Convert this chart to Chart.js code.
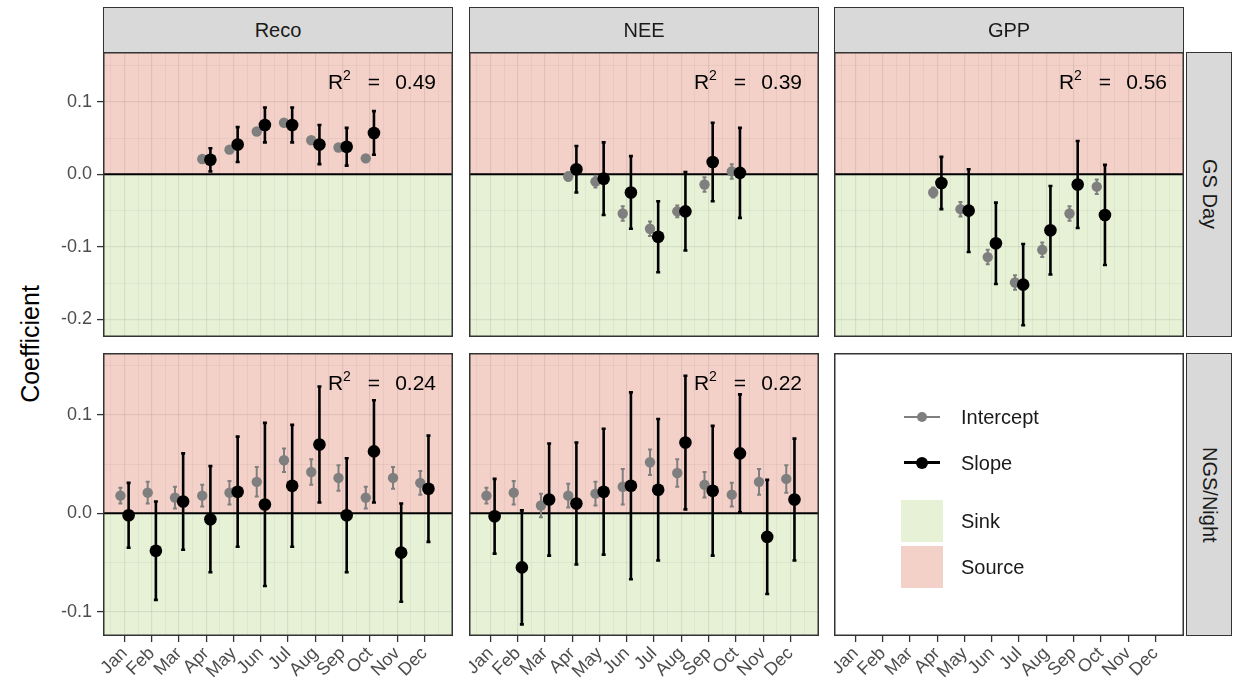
<!DOCTYPE html>
<html>
<head>
<meta charset="utf-8">
<script src="https://cdn.jsdelivr.net/npm/chart.js@4.4.1/dist/chart.umd.min.js"></script>
<style>
  body { margin: 0; background: #fff; font-family: "Liberation Sans", Arial, sans-serif; }
  #wrap { position: relative; width: 1236px; height: 698px; overflow: hidden; }
  canvas { position: absolute; }
  .strip { position: absolute; box-sizing: border-box; background: #d9d9d9; border: 1.5px solid #333;
           color: #1a1a1a; font-size: 20px; display: flex; align-items: center; justify-content: center; }
  .strip.side span { writing-mode: vertical-rl; }
  #ylab { position: absolute; left: 30px; top: 344px; transform: translate(-50%, -50%) rotate(-90deg);
          font-size: 25px; color: #000; white-space: nowrap; }
  .lg { position: absolute; }
  .lgtext { position: absolute; font-size: 20px; color: #1a1a1a; transform: translateY(-50%); white-space: nowrap; }
</style>
</head>
<body>
<div id="wrap">
  <div id="ylab">Coefficient</div>
</div>
<script>
// ---- data ----
const months = ['Jan', 'Feb', 'Mar', 'Apr', 'May', 'Jun', 'Jul', 'Aug', 'Sep', 'Oct', 'Nov', 'Dec'];
const fluxes = ['Reco', 'NEE', 'GPP'];
const periods = ['GS Day', 'NGS/Night'];

// GS Day (Apr-Oct only)
const recoDayInt   = [null, null, null, 0.021, 0.034, 0.059, 0.071, 0.047, 0.037, 0.022, null, null];
const recoDayIntSe = [null, null, null, 0.004, 0.004, 0.004, 0.004, 0.004, 0.004, 0.004, null, null];
const recoDaySlp   = [null, null, null, 0.020, 0.041, 0.068, 0.068, 0.041, 0.038, 0.057, null, null];
const recoDaySlpSe = [null, null, null, 0.016, 0.024, 0.024, 0.024, 0.027, 0.026, 0.030, null, null];

const neeDayInt   = [null, null, null, -0.003, -0.010, -0.054, -0.075, -0.051, -0.014, 0.004, null, null];
const neeDayIntSe = [null, null, null, 0.006, 0.008, 0.010, 0.010, 0.008, 0.010, 0.010, null, null];
const neeDaySlp   = [null, null, null, 0.007, -0.006, -0.025, -0.086, -0.051, 0.017, 0.002, null, null];
const neeDaySlpSe = [null, null, null, 0.032, 0.050, 0.050, 0.049, 0.054, 0.054, 0.062, null, null];

const gppDayInt   = [null, null, null, -0.025, -0.048, -0.114, -0.149, -0.104, -0.054, -0.017, null, null];
const gppDayIntSe = [null, null, null, 0.007, 0.010, 0.010, 0.010, 0.010, 0.010, 0.010, null, null];
const gppDaySlp   = [null, null, null, -0.012, -0.050, -0.095, -0.152, -0.077, -0.014, -0.056, null, null];
const gppDaySlpSe = [null, null, null, 0.036, 0.057, 0.056, 0.056, 0.061, 0.060, 0.069, null, null];

// NGS/Night (all months)
const recoNightInt   = [0.018, 0.021, 0.016, 0.018, 0.021, 0.032, 0.054, 0.042, 0.036, 0.016, 0.036, 0.031];
const recoNightIntSe = [0.008, 0.011, 0.011, 0.011, 0.012, 0.015, 0.012, 0.013, 0.013, 0.011, 0.011, 0.012];
const recoNightSlp   = [-0.002, -0.038, 0.012, -0.006, 0.022, 0.009, 0.028, 0.070, -0.002, 0.063, -0.040, 0.025];
const recoNightSlpSe = [0.033, 0.050, 0.049, 0.054, 0.056, 0.083, 0.062, 0.059, 0.058, 0.052, 0.050, 0.054];

const neeNightInt   = [0.018, 0.021, 0.008, 0.018, 0.020, 0.027, 0.052, 0.041, 0.029, 0.019, 0.032, 0.035];
const neeNightIntSe = [0.008, 0.012, 0.012, 0.012, 0.012, 0.018, 0.013, 0.014, 0.013, 0.012, 0.013, 0.014];
const neeNightSlp   = [-0.003, -0.055, 0.014, 0.010, 0.022, 0.028, 0.024, 0.072, 0.023, 0.061, -0.024, 0.014];
const neeNightSlpSe = [0.038, 0.058, 0.057, 0.062, 0.064, 0.095, 0.072, 0.068, 0.066, 0.060, 0.058, 0.062];

const r2Labels = { 'Reco|GS Day': '0.49', 'NEE|GS Day': '0.39', 'GPP|GS Day': '0.56',
                   'Reco|NGS/Night': '0.24', 'NEE|NGS/Night': '0.22' };

const dayTicks = [-0.2, -0.15, -0.1, -0.05, 0, 0.05, 0.1, 0.15];
const nightTicks = [-0.1, -0.05, 0, 0.05, 0.1, 0.15];

// ---- look ----
const sourceFill = '#f3d1c8';
const sinkFill = '#e6f1d6';
const interceptCol = '#7f7f7f';
const slopeCol = '#000000';
const dodge = 0.15;

const colLeft = [103, 469, 834];
const panelW = 350;
const rowTop = [52, 353];
const panelH = [285, 283];
const yAxisW = 103;
const xAxisH = 62;
const yRange = [[-0.2241, 0.1685], [-0.1248, 0.1631]];
const xRange = [0.21, 13.05];

Chart.defaults.font.family = '"Liberation Sans", Arial, sans-serif';

const isMajor = v => Math.abs(v * 10 - Math.round(v * 10)) < 1e-6;
const xTickVals = months.flatMap((m, i) => [i + 0.5, i + 1]).concat([12.5]);

const panelPlugin = {
  id: 'panel',
  beforeDraw(chart, args, o) {
    const { ctx, chartArea: a } = chart;
    ctx.save();
    if (o.zones) {
      const z = chart.scales.y.getPixelForValue(0);
      ctx.fillStyle = sourceFill;
      ctx.fillRect(a.left, a.top, a.width, z - a.top);
      ctx.fillStyle = sinkFill;
      ctx.fillRect(a.left, z, a.width, a.bottom - z);
    }
    ctx.restore();
  },
  beforeDatasetsDraw(chart, args, o) {
    if (!o.zones) return;
    const { ctx, chartArea: a } = chart;
    const z = chart.scales.y.getPixelForValue(0);
    ctx.save();
    ctx.strokeStyle = '#000';
    ctx.lineWidth = 2;
    ctx.beginPath();
    ctx.moveTo(a.left, z);
    ctx.lineTo(a.right, z);
    ctx.stroke();
    ctx.restore();
  },
  afterDraw(chart, args, o) {
    const { ctx, chartArea: a } = chart;
    ctx.save();
    ctx.strokeStyle = '#333';
    ctx.lineWidth = 1.5;
    ctx.strokeRect(a.left + 0.75, a.top + 0.75, a.width - 1.5, a.height - 1.5);
    if (o.r2) {
      ctx.fillStyle = '#000';
      ctx.textBaseline = 'alphabetic';
      const base = a.top + 37;
      ctx.font = '21px "Liberation Sans", Arial, sans-serif';
      const wVal = ctx.measureText(o.r2).width;
      const wEq = ctx.measureText('=').width;
      const wR = ctx.measureText('R').width;
      let x = a.right - 17 - wVal;
      ctx.fillText(o.r2, x, base);
      x -= 15 + wEq;
      ctx.fillText('=', x, base);
      ctx.font = '14px "Liberation Sans", Arial, sans-serif';
      const w2 = ctx.measureText('2').width;
      x -= 17 + w2;
      ctx.fillText('2', x, base - 9);
      ctx.font = '21px "Liberation Sans", Arial, sans-serif';
      x -= wR;
      ctx.fillText('R', x, base);
    }
    ctx.restore();
  }
};

const errorBars = {
  id: 'errorBars',
  beforeDatasetDraw(chart, args) {
    const ds = chart.data.datasets[args.index];
    if (!ds.err) return;
    const ctx = chart.ctx, ys = chart.scales.y;
    ctx.save();
    ctx.strokeStyle = ds.errColor;
    ctx.lineWidth = ds.errWidth;
    args.meta.data.forEach((pt, i) => {
      const v = ds.data[i].y;
      if (v == null) return;
      const top = ys.getPixelForValue(v + ds.err[i]);
      const bot = ys.getPixelForValue(v - ds.err[i]);
      ctx.beginPath();
      ctx.moveTo(pt.x, top); ctx.lineTo(pt.x, bot);
      ctx.moveTo(pt.x - 2, top); ctx.lineTo(pt.x + 2, top);
      ctx.moveTo(pt.x - 2, bot); ctx.lineTo(pt.x + 2, bot);
      ctx.stroke();
    });
    ctx.restore();
  }
};

function toPoints(vals, off) {
  return months.map((m, i) => ({ x: i + 1 + off, y: vals[i] }));
}

function makePanel(row, col, series, r2) {
  const showY = col === 0;
  const showX = row === 1;
  const canvas = document.createElement('canvas');
  const left = showY ? colLeft[col] - yAxisW : colLeft[col];
  const w = panelW + (showY ? yAxisW : 0);
  const h = panelH[row] + (showX ? xAxisH : 0);
  canvas.width = w; canvas.height = h;
  canvas.style.left = left + 'px';
  canvas.style.top = rowTop[row] + 'px';
  document.getElementById('wrap').appendChild(canvas);

  const yTicks = row === 0 ? dayTicks : nightTicks;
  const datasets = series ? [
    { label: 'Slope', data: toPoints(series.slp, dodge), err: series.slpSe, errColor: slopeCol, errWidth: 2.6,
      pointRadius: 6.3, backgroundColor: slopeCol, borderWidth: 0, order: 0, clip: false },
    { label: 'Intercept', data: toPoints(series.int, -dodge), err: series.intSe, errColor: interceptCol, errWidth: 2,
      pointRadius: 5.2, backgroundColor: interceptCol, borderWidth: 0, order: 1, clip: false }
  ] : [];

  new Chart(canvas, {
    type: 'scatter',
    data: { datasets },
    plugins: [panelPlugin, errorBars],
    options: {
      responsive: false,
      animation: false,
      events: [],
      layout: { padding: 0, autoPadding: false },
      plugins: {
        legend: { display: false },
        tooltip: { enabled: false },
        panel: { zones: !!series, r2: r2 }
      },
      scales: {
        x: {
          type: 'linear', min: xRange[0], max: xRange[1],
          afterBuildTicks: s => { s.ticks = xTickVals.map(v => ({ value: v })); },
          afterFit: s => { s.height = showX ? xAxisH : 0; s.paddingLeft = 0; s.paddingRight = 0; },
          border: { display: false },
          grid: {
            display: true,
            drawOnChartArea: !!series,
            drawTicks: showX,
            tickLength: 6,
            color: c => Number.isInteger(c.tick.value) ? 'rgba(0,0,0,0.075)' : 'rgba(0,0,0,0.05)',
            lineWidth: c => Number.isInteger(c.tick.value) ? 1.2 : 0.8,
            tickColor: c => Number.isInteger(c.tick.value) ? '#333' : 'rgba(0,0,0,0)',
            tickWidth: 1.3
          },
          ticks: {
            display: showX,
            autoSkip: false,
            minRotation: 45, maxRotation: 45,
            padding: 1,
            color: '#4d4d4d',
            font: { size: 18 },
            callback: v => Number.isInteger(v) ? months[v - 1] : ''
          }
        },
        y: {
          type: 'linear', min: yRange[row][0], max: yRange[row][1],
          afterBuildTicks: s => { s.ticks = yTicks.map(v => ({ value: v })); },
          afterFit: s => { s.width = showY ? yAxisW : 0; s.paddingTop = 0; s.paddingBottom = 0; },
          border: { display: false },
          grid: {
            display: true,
            drawOnChartArea: !!series,
            drawTicks: showY,
            tickLength: 6,
            color: c => isMajor(c.tick.value) ? 'rgba(0,0,0,0.075)' : 'rgba(0,0,0,0.05)',
            lineWidth: c => isMajor(c.tick.value) ? 1.2 : 0.8,
            tickColor: c => isMajor(c.tick.value) ? '#333' : 'rgba(0,0,0,0)',
            tickWidth: 1.3
          },
          ticks: {
            display: showY,
            padding: 5,
            color: '#4d4d4d',
            font: { size: 18 },
            callback: v => isMajor(v) ? v.toFixed(1) : ''
          }
        }
      }
    }
  });
}

const panels = {
  'Reco|GS Day': { int: recoDayInt, intSe: recoDayIntSe, slp: recoDaySlp, slpSe: recoDaySlpSe },
  'NEE|GS Day': { int: neeDayInt, intSe: neeDayIntSe, slp: neeDaySlp, slpSe: neeDaySlpSe },
  'GPP|GS Day': { int: gppDayInt, intSe: gppDayIntSe, slp: gppDaySlp, slpSe: gppDaySlpSe },
  'Reco|NGS/Night': { int: recoNightInt, intSe: recoNightIntSe, slp: recoNightSlp, slpSe: recoNightSlpSe },
  'NEE|NGS/Night': { int: neeNightInt, intSe: neeNightIntSe, slp: neeNightSlp, slpSe: neeNightSlpSe }
};

periods.forEach((p, r) => {
  fluxes.forEach((f, c) => {
    const key = f + '|' + p;
    makePanel(r, c, panels[key] || null, r2Labels[key]);
  });
});

// strips
const wrap = document.getElementById('wrap');
function addDiv(cls, style, html) {
  const d = document.createElement('div');
  d.className = cls;
  Object.assign(d.style, style);
  d.innerHTML = html;
  wrap.appendChild(d);
  return d;
}
fluxes.forEach((f, c) => addDiv('strip', { left: colLeft[c] + 'px', top: '7px', width: panelW + 'px', height: (rowTop[0] - 7 + 1) + 'px' }, f));
periods.forEach((p, r) => addDiv('strip side', { left: '1186px', top: rowTop[r] + 'px', width: '46px', height: panelH[r] + 'px' }, '<span>' + p + '</span>'));

// legend inside the empty panel
addDiv('lg', { left: '904px', top: '416px', width: '36px', height: '2px', background: interceptCol }, '');
addDiv('lg', { left: '917px', top: '412px', width: '10px', height: '10px', borderRadius: '50%', background: interceptCol }, '');
addDiv('lgtext', { left: '961px', top: '417px' }, 'Intercept');
addDiv('lg', { left: '904px', top: '461px', width: '36px', height: '3px', background: slopeCol }, '');
addDiv('lg', { left: '916px', top: '457px', width: '12px', height: '12px', borderRadius: '50%', background: slopeCol }, '');
addDiv('lgtext', { left: '961px', top: '463px' }, 'Slope');
addDiv('lg', { left: '901px', top: '500px', width: '42px', height: '42px', background: sinkFill }, '');
addDiv('lgtext', { left: '961px', top: '521px' }, 'Sink');
addDiv('lg', { left: '901px', top: '546px', width: '42px', height: '42px', background: sourceFill }, '');
addDiv('lgtext', { left: '961px', top: '567px' }, 'Source');
</script>
</body>
</html>
